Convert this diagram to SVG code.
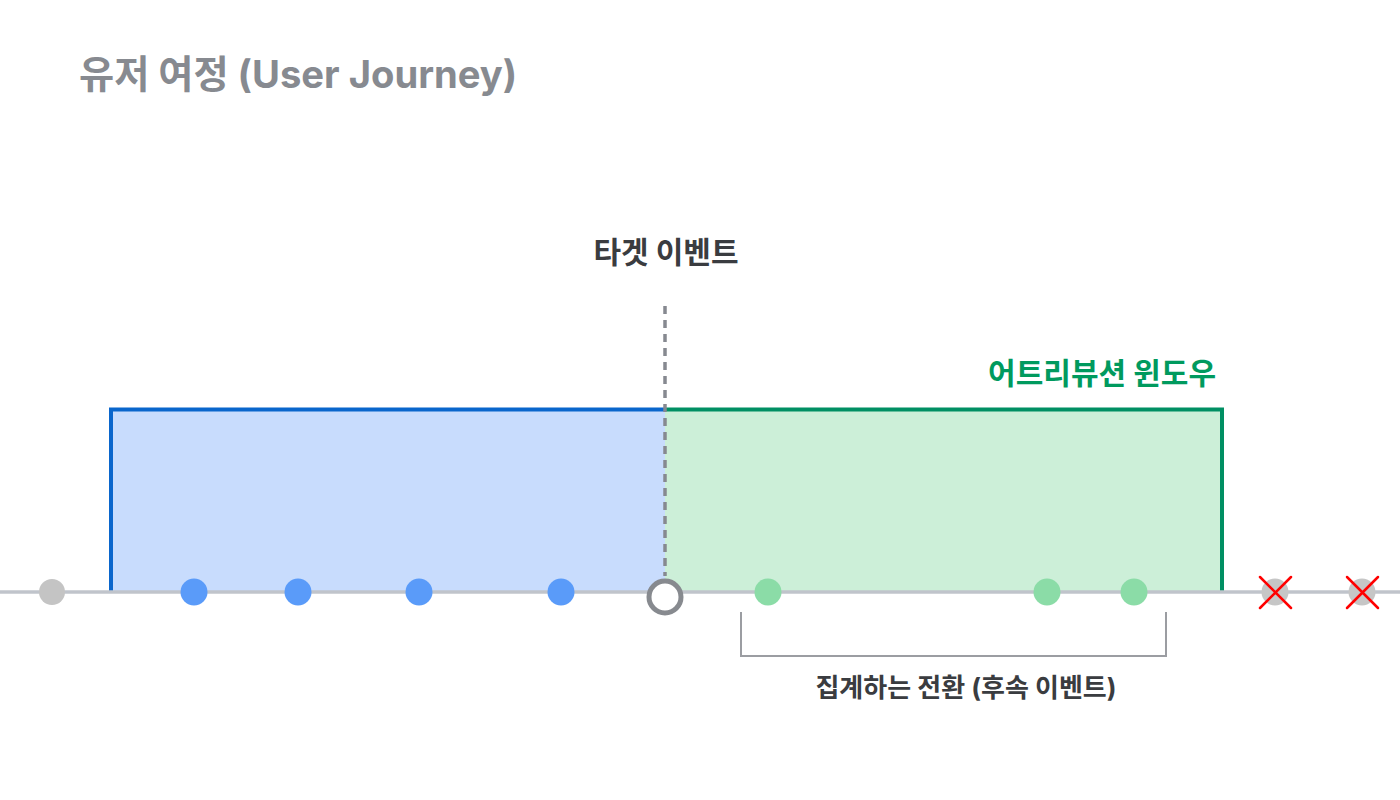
<svg xmlns="http://www.w3.org/2000/svg" width="1400" height="800" viewBox="0 0 1400 800">
<style>
.t{font-family:"Inter","Noto Sans CJK KR",sans-serif;font-weight:700}
.dot-b{fill:#5A9BF9}
.dot-g{fill:#8BDCA7}
.dot-x{fill:#C6C6C6}
.x{stroke:#FF0000;stroke-width:2.5;stroke-linecap:round}
</style>
<rect width="1400" height="800" fill="#FFFFFF"/>
<text class="t" x="79" y="88" font-size="38.2" fill="#878A90">유저 여정 (User Journey)</text>
<g id="pre-window">
<rect x="111" y="409" width="554" height="183" fill="#C8DCFD"/>
<path d="M111,592 V409.5 H665" fill="none" stroke="#0A66CC" stroke-width="4"/>
</g>
<g id="attribution-window">
<rect x="665" y="409" width="557" height="183" fill="#CCEFD8"/>
<path d="M665,409.5 H1222 V592" fill="none" stroke="#008F63" stroke-width="4"/>
<text class="t" x="1216" y="384" font-size="30" fill="#009A5E" text-anchor="end">어트리뷰션 윈도우</text>
</g>
<g id="connectors">
<line x1="665" y1="306" x2="665" y2="576" stroke="#868990" stroke-width="3.5" stroke-dasharray="8,6"/>
<line x1="0" y1="592" x2="1400" y2="592" stroke="#C0C4CB" stroke-width="3.5"/>
<path d="M741,612 V656 H1166 V612" fill="none" stroke="#9B9DA2" stroke-width="2"/>
</g>
<g id="target-label"><text class="t" x="666" y="263" font-size="30" fill="#3A3C40" text-anchor="middle">타겟 이벤트</text></g>
<g id="event-0"><circle cx="52" cy="592" r="13" fill="#C4C4C4"/></g>
<g id="event-1"><circle class="dot-b" cx="194" cy="592" r="13.5"/></g>
<g id="event-2"><circle class="dot-b" cx="298" cy="592" r="13.5"/></g>
<g id="event-3"><circle class="dot-b" cx="419" cy="592" r="13.5"/></g>
<g id="event-4"><circle class="dot-b" cx="561" cy="592" r="13.5"/></g>
<g id="target-event"><circle cx="665" cy="597" r="16" fill="#FFFFFF" stroke="#878A8F" stroke-width="5"/></g>
<g id="event-5"><circle class="dot-g" cx="768" cy="592" r="13.5"/></g>
<g id="event-6"><circle class="dot-g" cx="1047" cy="592" r="13.5"/></g>
<g id="event-7"><circle class="dot-g" cx="1134" cy="592" r="13.5"/></g>
<g id="event-8"><circle class="dot-x" cx="1275" cy="592" r="13.5"/><path class="x" d="M1260,577 L1291,608 M1291,577 L1260,608"/></g>
<g id="event-9"><circle class="dot-x" cx="1362" cy="592" r="13.5"/><path class="x" d="M1347,577 L1378,608 M1378,577 L1347,608"/></g>
<g id="conversions-label"><text class="t" x="966" y="697" font-size="26" fill="#3A3C40" text-anchor="middle">집계하는 전환 (후속 이벤트)</text></g>
</svg>
